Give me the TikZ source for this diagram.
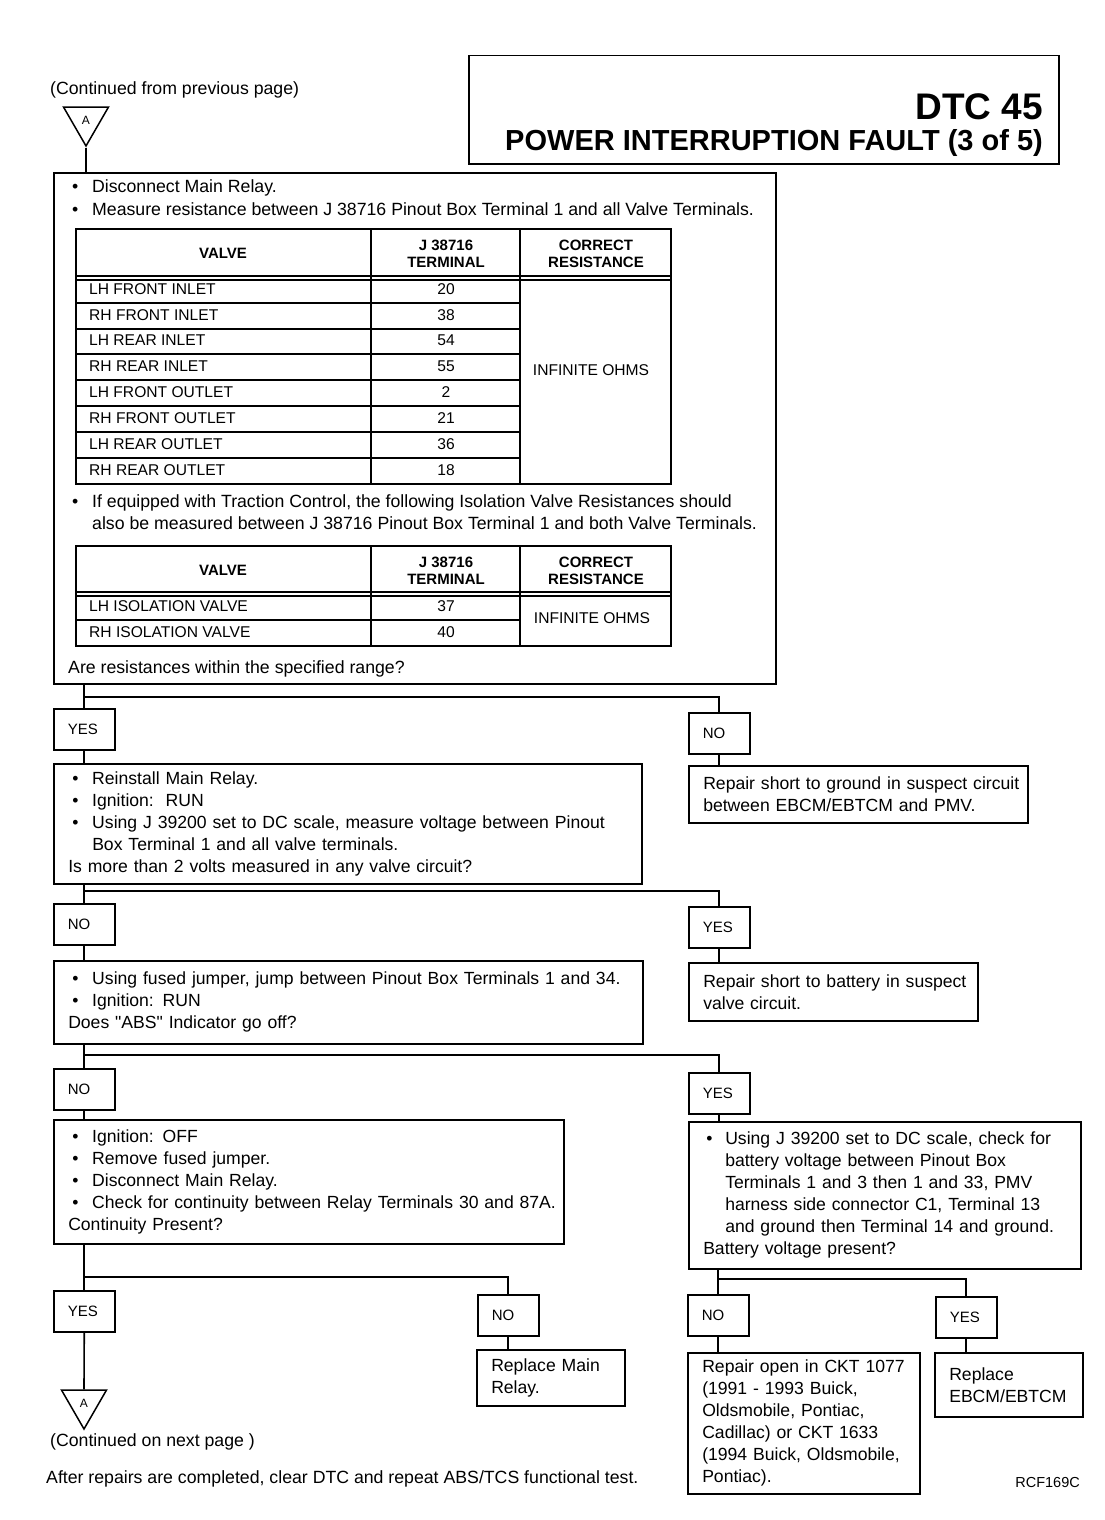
\documentclass[tikz,border=0pt]{standalone}
\usepackage{fontspec}
\setmainfont{Liberation Sans}[Ligatures=TeXOff]
\usetikzlibrary{shapes.geometric}
\newcommand\bl{\makebox[24pt][l]{\hspace*{4pt}\textbullet}}
\newcommand\blb{\makebox[22pt][l]{\hspace*{3pt}\textbullet}}
\newcommand\li[1]{\mbox{#1}}
\tikzset{
  box/.style={draw, line width=1.5pt, rectangle, anchor=north west, inner sep=0pt},
  tbox/.style={draw, line width=1.5pt, rectangle, anchor=north west, inner ysep=0pt,
     inner xsep=14.5pt, align=left, font=\fontsize{17.6}{22}\selectfont},
  lbl/.style={draw, line width=1.5pt, rectangle, anchor=north west, inner ysep=0pt,
     inner xsep=14pt, text width=33pt, align=left,
     minimum height=41pt, font=\fontsize{15}{16}\selectfont},
  txt/.style={anchor=west, inner sep=0pt, text height=12pt, text depth=4pt, font=\fontsize{17.7}{22}\selectfont},
  cell/.style={anchor=west, inner sep=0pt, text height=11pt, text depth=3pt, font=\fontsize{15.6}{18}\selectfont},
  num/.style={inner sep=0pt, text height=11pt, text depth=3pt, font=\fontsize{15.6}{18}\selectfont},
  head/.style={inner sep=0pt, align=center, font=\bfseries\fontsize{15}{17}\selectfont},
  tbl/.style={line width=1.2pt},
  conn/.style={line width=1.6pt},
  tri/.style={draw, line width=1.5pt, regular polygon, regular polygon sides=3,
     shape border rotate=180, minimum size=52pt, inner sep=0pt, font=\fontsize{12}{12}\selectfont}
}
\begin{document}
\begin{tikzpicture}[x=1pt,y=-1pt]
\useasboundingbox (0,0) rectangle (1104,1520);

% ---- header ----
\node[txt] (cont1) at (50,90) {(Continued from previous page)};
\node[tri] (triA) at (86,120) {A};
\node[box, minimum width=590pt, minimum height=108pt] (title) at (468,55) {};
\node[anchor=east, inner sep=0pt, font=\bfseries\fontsize{37}{40}\selectfont] (dtc) at (1043,107) {DTC 45};
\node[anchor=east, inner sep=0pt, font=\bfseries\fontsize{29}{30}\selectfont] (ttl) at (1043,143) {POWER INTERRUPTION FAULT (3 of 5)};

% ---- box 1 ----
\node[box, minimum width=722pt, minimum height=511pt] (b1) at (53,172) {};
\node[txt] (b1a) at (68,188) {\bl Disconnect Main Relay.};
\node[txt] (b1b) at (68,211) {\bl Measure resistance between J 38716 Pinout Box Terminal 1 and all Valve Terminals.};

% table 1
\draw[tbl] (76,229) rectangle (671,484);
\draw[tbl] (371,229) -- (371,484) (520,229) -- (520,484);
\draw[tbl] (76,276) -- (671,276) (76,280) -- (671,280);
\foreach \yy in {303,329,354,380,406,432,458} \draw[tbl] (76,\yy) -- (520,\yy);
\node[head] (h1a) at (223,253) {VALVE};
\node[head] (h1b) at (446,254) {J 38716\\TERMINAL};
\node[head] (h1c) at (596,254) {CORRECT\\RESISTANCE};
\node[cell] (r1) at (89,290.5) {LH FRONT INLET};   \node[num] (n1) at (446,290.5) {20};
\node[cell] (r2) at (89,316) {RH FRONT INLET};     \node[num] (n2) at (446,316) {38};
\node[cell] (r3) at (89,341.5) {LH REAR INLET};    \node[num] (n3) at (446,341.5) {54};
\node[cell] (r4) at (89,367) {RH REAR INLET};      \node[num] (n4) at (446,367) {55};
\node[cell] (r5) at (89,393) {LH FRONT OUTLET};    \node[num] (n5) at (446,393) {2};
\node[cell] (r6) at (89,419) {RH FRONT OUTLET};    \node[num] (n6) at (446,419) {21};
\node[cell] (r7) at (89,445) {LH REAR OUTLET};     \node[num] (n7) at (446,445) {36};
\node[cell] (r8) at (89,471) {RH REAR OUTLET};     \node[num] (n8) at (446,471) {18};
\node[num] (inf1) at (591,371) {INFINITE OHMS};

\node[txt] (b1c) at (68,503) {\bl If equipped with Traction Control, the following Isolation Valve Resistances should};
\node[txt] (b1d) at (92,525) {also be measured between J 38716 Pinout Box Terminal 1 and both Valve Terminals.};

% table 2
\draw[tbl] (76,546) rectangle (671,646);
\draw[tbl] (371,546) -- (371,646) (520,546) -- (520,646);
\draw[tbl] (76,592) -- (671,592) (76,596) -- (671,596);
\draw[tbl] (76,620) -- (520,620);
\node[head] (h2a) at (223,570) {VALVE};
\node[head] (h2b) at (446,571) {J 38716\\TERMINAL};
\node[head] (h2c) at (596,571) {CORRECT\\RESISTANCE};
\node[cell] (s1) at (89,607) {LH ISOLATION VALVE}; \node[num] (m1) at (446,607) {37};
\node[cell] (s2) at (89,633) {RH ISOLATION VALVE}; \node[num] (m2) at (446,633) {40};
\node[num] (inf2) at (592,619) {INFINITE OHMS};

\node[txt] (b1e) at (68,669) {Are resistances within the specified range?};

% ---- level 2 ----
\node[lbl] (yes1) at (53,708) {YES};
\node[lbl] (no1) at (688,712) {NO};
\node[tbox, text width=559pt, minimum width=588pt, minimum height=120pt] (b2) at (53,763)
 {\li{\bl Reinstall Main Relay.}\\
  \li{\bl Ignition:\ \ RUN}\\
  \li{\bl Using J 39200 set to DC scale, measure voltage between Pinout}\\
  \li{\hspace*{24pt}Box Terminal 1 and all valve terminals.}\\
  \li{Is more than 2 volts measured in any valve circuit?}};
\node[tbox, text width=310pt, minimum width=339pt, minimum height=57pt] (r2box) at (688,765)
 {\li{Repair short to ground in suspect circuit}\\\li{between EBCM/EBTCM and PMV.}};

% ---- level 3 ----
\node[lbl] (no2) at (53,903) {NO};
\node[lbl] (yes2) at (688,906) {YES};
\node[tbox, text width=560pt, minimum width=589pt, minimum height=83pt] (b3) at (53,960)
 {\li{\bl Using fused jumper, jump between Pinout Box Terminals 1 and 34.}\\
  \li{\bl Ignition: RUN}\\
  \li{Does "ABS" Indicator go off?}};
\node[tbox, text width=260pt, minimum width=289pt, minimum height=58pt] (r3box) at (688,962)
 {\li{Repair short to battery in suspect}\\\li{valve circuit.}};

% ---- level 4 ----
\node[lbl] (no3) at (53,1068) {NO};
\node[lbl] (yes3) at (688,1072) {YES};
\node[tbox, text width=481pt, minimum width=510pt, minimum height=124pt] (b4) at (53,1119)
 {\li{\bl Ignition: OFF}\\
  \li{\bl Remove fused jumper.}\\
  \li{\bl Disconnect Main Relay.}\\
  \li{\bl Check for continuity between Relay Terminals 30 and 87A.}\\
  \li{Continuity Present?}};
\node[tbox, text width=363pt, minimum width=392pt, minimum height=147pt] (b5) at (688,1121)
 {\li{\blb Using J 39200 set to DC scale, check for}\\
  \li{\hspace*{22pt}battery voltage between Pinout Box}\\
  \li{\hspace*{22pt}Terminals 1 and 3 then 1 and 33, PMV}\\
  \li{\hspace*{22pt}harness side connector C1, Terminal 13}\\
  \li{\hspace*{22pt}and ground then Terminal 14 and ground.}\\
  \li{Battery voltage present?}};

% ---- level 5 ----
\node[lbl] (yes4) at (53,1290) {YES};
\node[lbl] (no4) at (477,1294) {NO};
\node[tbox, text width=119pt, minimum width=148pt, minimum height=56pt] (r4box) at (476,1349)
 {\li{Replace Main}\\\li{Relay.}};
\node[lbl] (no5) at (687,1294) {NO};
\node[lbl] (yes5) at (935,1296) {YES};
\node[tbox, text width=203pt, minimum width=232pt, minimum height=141pt] (r5box) at (687,1352)
 {\li{Repair open in CKT 1077}\\\li{(1991 - 1993 Buick,}\\\li{Oldsmobile, Pontiac,}\\\li{Cadillac) or CKT 1633}\\\li{(1994 Buick, Oldsmobile,}\\\li{Pontiac).}};
\node[tbox, text width=119pt, minimum width=148pt, minimum height=64pt] (r6box) at (934,1352)
 {\li{Replace}\\\li{EBCM/EBTCM}};

\node[tri] (triB) at (84,1403) {A};
\node[txt] (cont2) at (50,1442) {(Continued on next page )};
\node[txt] (after) at (46,1479) {After repairs are completed, clear DTC and repeat ABS/TCS functional test.};
\node[anchor=east, inner sep=0pt, font=\fontsize{14.5}{15}\selectfont] (rcf) at (1080,1482) {RCF169C};

% ---- connectors ----
\draw[conn] (triA.south) -- (triA.south |- b1.north);

\coordinate (j1) at (84,697);
\draw[conn] (b1.south -| yes1.north) -- (yes1.north);
\draw[conn] (j1) -| (no1.north);
\draw[conn] (yes1.south) -- (yes1.south |- b2.north);
\draw[conn] (no1.south) -- (no1.south |- r2box.north);

\coordinate (j2) at (84,891);
\draw[conn] (b2.south -| no2.north) -- (no2.north);
\draw[conn] (j2) -| (yes2.north);
\draw[conn] (no2.south) -- (no2.south |- b3.north);
\draw[conn] (yes2.south) -- (yes2.south |- r3box.north);

\coordinate (j3) at (84,1055);
\draw[conn] (b3.south -| no3.north) -- (no3.north);
\draw[conn] (j3) -| (yes3.north);
\draw[conn] (no3.south) -- (no3.south |- b4.north);
\draw[conn] (yes3.south) -- (yes3.south |- b5.north);

\coordinate (j4) at (84,1277);
\draw[conn] (b4.south -| yes4.north) -- (yes4.north);
\draw[conn] (j4) -| (no4.north);
\draw[conn] (no4.south) -- (no4.south |- r4box.north);
\draw[conn] (yes4.south) -- (triB.north);

\coordinate (j5) at (718,1279);
\draw[conn] (b5.south -| no5.north) -- (no5.north);
\draw[conn] (j5) -| (yes5.north);
\draw[conn] (no5.south) -- (no5.south |- r5box.north);
\draw[conn] (yes5.south) -- (yes5.south |- r6box.north);
\end{tikzpicture}
\end{document}
